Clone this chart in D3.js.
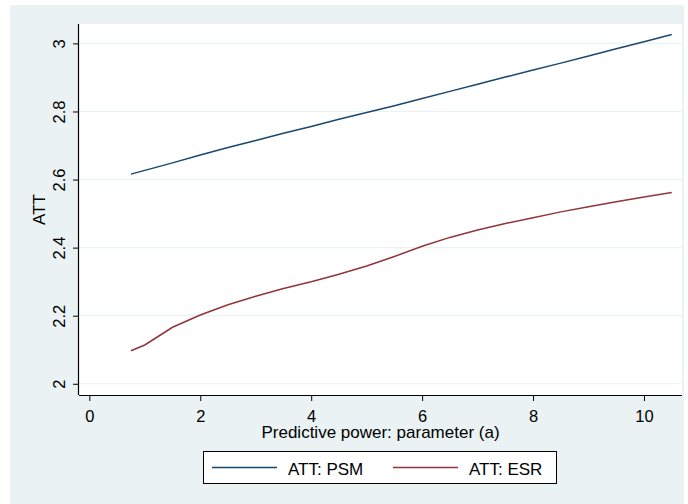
<!DOCTYPE html>
<html>
<head>
<meta charset="utf-8">
<script src="https://cdn.jsdelivr.net/npm/d3@7"></script>
<style>
  body { margin: 0; background: #fff; }
  text { font-family: "Liberation Sans", Arial, sans-serif; }
</style>
</head>
<body>
<svg id="chart" width="688" height="504"></svg>
<script>
// predictive power parameter (a)
var aValues = [0.75, 1, 1.5, 2, 2.5, 3, 3.5, 4, 4.5, 5, 5.5, 6, 6.5, 7, 7.5, 8, 8.5, 9, 9.5, 10, 10.5];
var attPSM = [2.616, 2.627, 2.649, 2.672, 2.694, 2.715, 2.736, 2.756, 2.777, 2.797, 2.817, 2.838,
              2.859, 2.880, 2.901, 2.922, 2.942, 2.963, 2.984, 3.005, 3.026];
var attESR = [2.097, 2.114, 2.166, 2.202, 2.232, 2.257, 2.280, 2.300, 2.322, 2.346, 2.374, 2.404,
              2.430, 2.452, 2.471, 2.488, 2.505, 2.520, 2.535, 2.549, 2.562];
var xTicks = [0, 2, 4, 6, 8, 10];
var yTicks = [2, 2.2, 2.4, 2.6, 2.8, 3];
var seriesNames = ["ATT: PSM", "ATT: ESR"];
var seriesColors = ["#1a476f", "#90353b"];

var svg = d3.select("svg#chart"),
    margin = {top: 24, left: 79},
    width = 603,
    height = 371;

// outer graph region (stata s2color)
svg.append("rect")
    .attr("x", 10).attr("y", 5)
    .attr("width", 674).attr("height", 499)
    .attr("fill", "#eaf2f3");

var g = svg.append("g").attr("transform", "translate(" + margin.left + "," + margin.top + ")");

g.append("rect")
    .attr("width", width).attr("height", height)
    .attr("fill", "#fff");

var x = d3.scaleLinear()
    .domain([-0.186, 10.685])
    .range([0, width]);

var y = d3.scaleLinear()
    .domain([1.967, 3.057])
    .range([height, 0]);

// gridlines
g.append("g")
  .selectAll("line")
  .data(yTicks)
  .enter().append("line")
    .attr("x1", 0).attr("x2", width)
    .attr("y1", function(d) { return y(d); })
    .attr("y2", function(d) { return y(d); })
    .attr("stroke", "#eaf2f3")
    .attr("stroke-width", 1.2);

var line = d3.line()
    .x(function(d) { return x(d[0]); })
    .y(function(d) { return y(d[1]); });

[attPSM, attESR].forEach(function(vals, i) {
  g.append("path")
      .datum(aValues.map(function(a, j) { return [a, vals[j]]; }))
      .attr("fill", "none")
      .attr("stroke", seriesColors[i])
      .attr("stroke-width", 1.5)
      .attr("d", line);
});

// axes
var xAxis = g.append("g")
    .attr("transform", "translate(0," + height + ")")
    .call(d3.axisBottom(x).tickValues(xTicks).tickSize(6).tickPadding(9).tickFormat(d3.format("d")));

var yAxis = g.append("g")
    .call(d3.axisLeft(y).tickValues(yTicks).tickSize(6).tickFormat(function(d) { return d3.format("")(d); }));

[xAxis, yAxis].forEach(function(ax) {
  ax.select(".domain").attr("stroke", "#000").attr("stroke-width", 1.2)
    .attr("d", ax === xAxis ? "M0,0.5H" + width : "M-0.5,0V" + height);
  ax.selectAll(".tick line").attr("stroke", "#000");
  ax.selectAll("text").attr("font-size", 16.5).attr("fill", "#000")
    .style("font-family", "'Liberation Sans', Arial, sans-serif");
});

yAxis.selectAll(".tick text")
    .attr("x", 0).attr("dy", 0)
    .attr("transform", "translate(-14,0) rotate(-90)")
    .style("text-anchor", "middle");

// axis titles
svg.append("text")
    .attr("x", margin.left + width / 2)
    .attr("y", 438)
    .attr("font-size", 17)
    .attr("text-anchor", "middle")
    .text("Predictive power: parameter (a)");

svg.append("text")
    .attr("transform", "translate(45," + (margin.top + height / 2 + 0) + ") rotate(-90)")
    .attr("font-size", 17)
    .attr("text-anchor", "middle")
    .text("ATT");

// legend
var legend = svg.append("g");

legend.append("rect")
    .attr("x", 203.5).attr("y", 451.5)
    .attr("width", 353).attr("height", 32)
    .attr("fill", "#fff")
    .attr("stroke", "#000")
    .attr("stroke-width", 1);

var legendItems = legend.selectAll("g.item")
    .data(seriesNames)
  .enter().append("g")
    .attr("transform", function(d, i) { return "translate(" + (i === 0 ? 212 : 393) + ",0)"; });

legendItems.append("line")
    .attr("x1", 0).attr("x2", 65)
    .attr("y1", 467.5).attr("y2", 467.5)
    .attr("stroke", function(d, i) { return seriesColors[i]; })
    .attr("stroke-width", 1.5);

legendItems.append("text")
    .attr("x", 76)
    .attr("y", 475)
    .attr("font-size", 17)
    .text(function(d) { return d; });
</script>
</body>
</html>
